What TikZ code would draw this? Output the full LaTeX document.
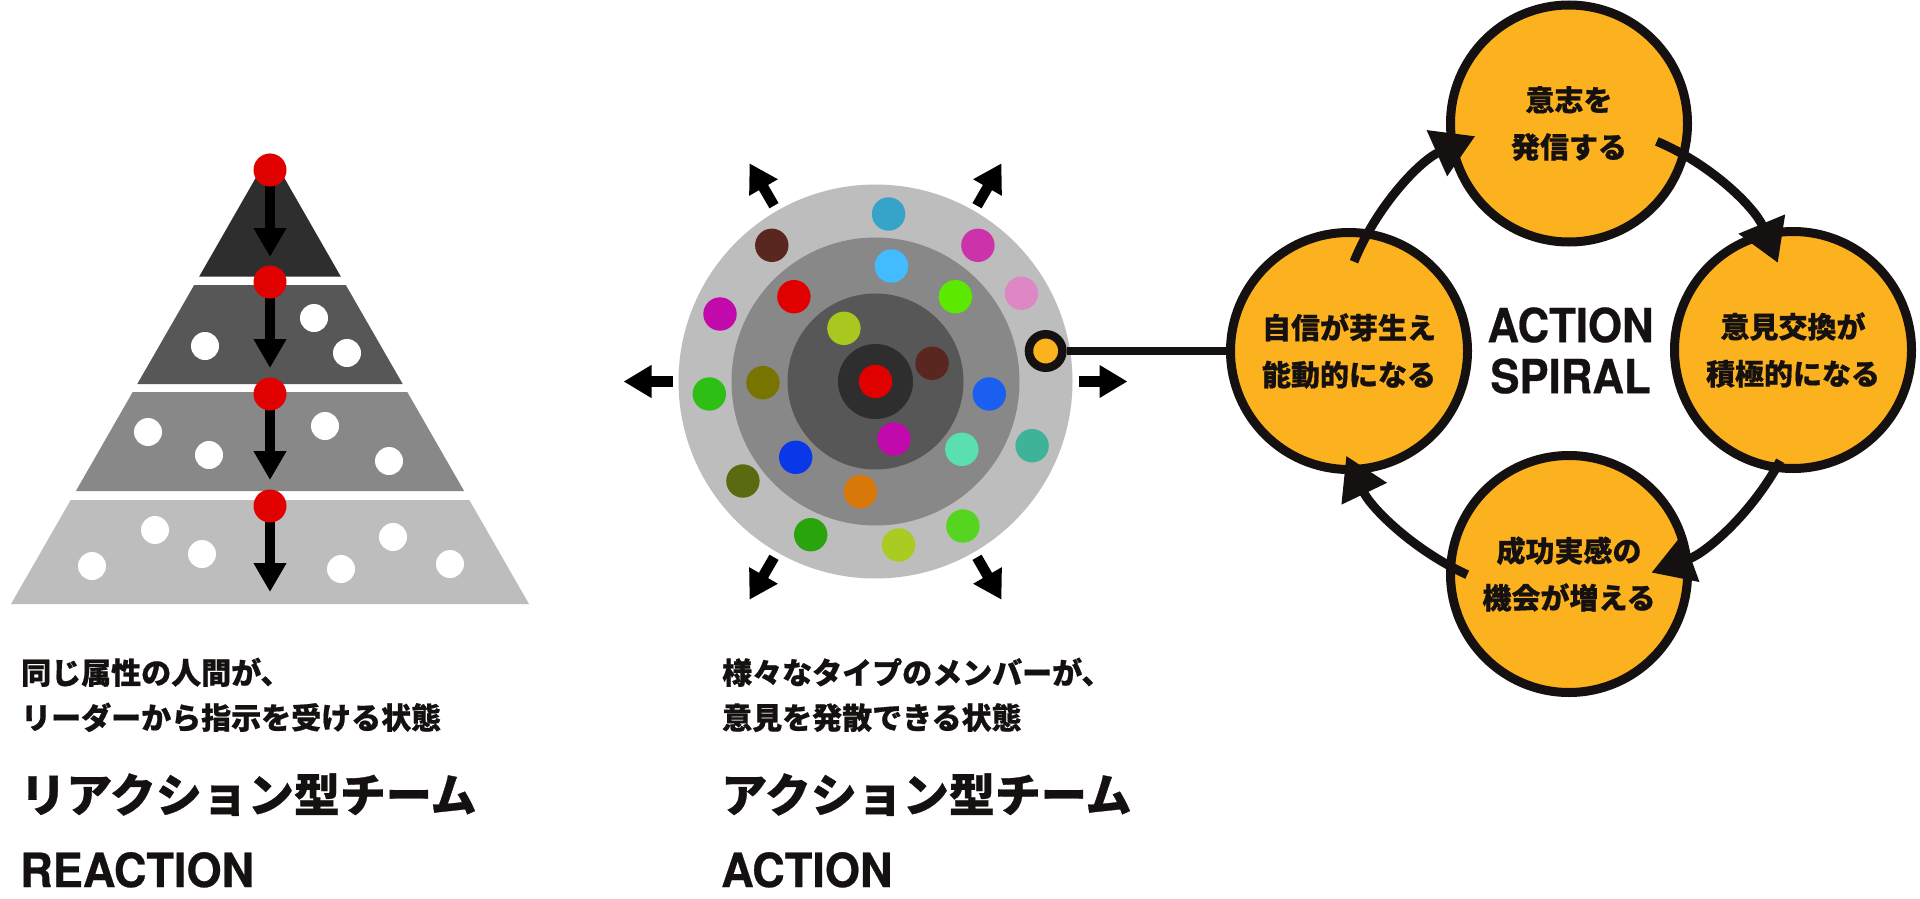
\documentclass[tikz,border=0pt]{standalone}
\usepackage{fontspec}
\newfontfamily\jp[BoldFeatures={FakeBold=0.6}]{Noto Sans CJK JP}
\newfontfamily\hel[FakeStretch=0.93,BoldFeatures={FakeBold=0.5}]{TeX Gyre Heros}
\newfontfamily\helw[FakeStretch=0.96,BoldFeatures={FakeBold=0.5}]{TeX Gyre Heros}
\usetikzlibrary{arrows.meta,calc}
\definecolor{tierA}{HTML}{2E2E2E}
\definecolor{tierB}{HTML}{575757}
\definecolor{tierC}{HTML}{888888}
\definecolor{tierD}{HTML}{BDBDBD}
\definecolor{reddot}{HTML}{E00000}
\definecolor{spfill}{HTML}{FCB11F}
\definecolor{ink}{HTML}{141110}
\begin{document}
\begin{tikzpicture}[x=1pt,y=-1pt,
  wdot/.style={circle,fill=white,inner sep=0pt,minimum size=28pt},
  rdot/.style={circle,fill=reddot,inner sep=0pt,minimum size=33pt},
  cdot/.style={circle,inner sep=0pt,minimum size=33.4pt},
  parr/.style={black,line width=10pt,-{Triangle[length=29pt,width=31pt]}},
  carr/.style={black,line width=10.5pt,-{Triangle[length=28pt,width=31pt]}},
  sarr/.style={ink,line width=9pt,-{Triangle[length=42pt,width=48pt]}},
  spc/.style={circle,draw=ink,fill=spfill,line width=9pt,minimum size=237pt,inner sep=0pt,align=center,text=ink,font=\jp\bfseries\fontsize{29}{47}\selectfont},
  captxt/.style={inner sep=0pt,text=ink,font=\jp\bfseries\fontsize{30}{36}\selectfont},
  ttltxt/.style={inner sep=0pt,text=ink,font=\jp\bfseries\fontsize{46}{55}\selectfont},
  engtxt/.style={inner sep=0pt,text=ink,font=\hel\bfseries\fontsize{47}{51}\selectfont},
  engbig/.style={inner sep=0pt,text=ink,font=\helw\bfseries\fontsize{47}{51}\selectfont}
]
\useasboundingbox (0,0) rectangle (1920,899);
\fill[white] (0,0) rectangle (1920,899);

% ---------------- pyramid ----------------
\fill[tierA] (270,153) -- (340.9,276.7) -- (199.1,276.7) -- cycle;
\fill[tierB] (194.2,285) -- (345.8,285) -- (402.7,384) -- (137.3,384) -- cycle;
\fill[tierC] (132.7,392) -- (407.3,392) -- (464.1,491) -- (75.9,491) -- cycle;
\fill[tierD] (70.7,500) -- (469.3,500) -- (529,604) -- (11,604) -- cycle;

\node[wdot] (w1) at (205,346) {};
\node[wdot] (w2) at (314,318) {};
\node[wdot] (w3) at (347,353) {};
\node[wdot] (w4) at (148,432) {};
\node[wdot] (w5) at (209,455) {};
\node[wdot] (w6) at (325,426) {};
\node[wdot] (w7) at (389,461) {};
\node[wdot] (w8) at (92,566) {};
\node[wdot] (w9) at (155,530) {};
\node[wdot] (w10) at (202,554) {};
\node[wdot] (w11) at (341,569) {};
\node[wdot] (w12) at (393,537) {};
\node[wdot] (w13) at (450,564) {};

\coordinate (p1) at (270,170);
\coordinate (p2) at (270,282);
\coordinate (p3) at (270,394);
\coordinate (p4) at (270,506);
\coordinate (q1) at (270,257);
\coordinate (q2) at (270,368);
\coordinate (q3) at (270,480);
\coordinate (q4) at (270,592);
\draw[parr] (p1) -- (q1);
\draw[parr] (p2) -- (q2);
\draw[parr] (p3) -- (q3);
\draw[parr] (p4) -- (q4);
\node[rdot] (r1) at (p1) {};
\node[rdot] (r2) at (p2) {};
\node[rdot] (r3) at (p3) {};
\node[rdot] (r4) at (p4) {};

% ---------------- action circles ----------------
\coordinate (cc) at (875.5,381.5);
\fill[tierD] (cc) circle[radius=197];
\fill[tierC] (cc) circle[radius=144];
\fill[tierB] (cc) circle[radius=88];
\fill[tierA] (cc) circle[radius=37.5];
\node[cdot,fill=reddot] (c0) at (cc) {};

\node[cdot,fill={rgb,255:red,53;green,164;blue,200}] (c1) at (888.6,214) {};
\node[cdot,fill={rgb,255:red,90;green,38;blue,32}] (c2) at (771.8,245.3) {};
\node[cdot,fill={rgb,255:red,204;green,51;blue,170}] (c3) at (977.9,245.3) {};
\node[cdot,fill={rgb,255:red,66;green,187;blue,255}] (c4) at (891.4,266) {};
\node[cdot,fill={rgb,255:red,224;green,0;blue,0}] (c5) at (793.9,296.7) {};
\node[cdot,fill={rgb,255:red,93;green,232;blue,0}] (c6) at (955.4,296.7) {};
\node[cdot,fill={rgb,255:red,221;green,136;blue,196}] (c7) at (1021.4,293.3) {};
\node[cdot,fill={rgb,255:red,194;green,10;blue,172}] (c8) at (720,314) {};
\node[cdot,fill={rgb,255:red,168;green,200;blue,32}] (c9) at (843.9,328.3) {};
\node[cdot,fill={rgb,255:red,90;green,38;blue,32}] (c10) at (932.1,363.3) {};
\node[cdot,fill={rgb,255:red,120;green,116;blue,0}] (c11) at (762.9,382.7) {};
\node[cdot,fill={rgb,255:red,45;green,191;blue,20}] (c12) at (709.3,394) {};
\node[cdot,fill={rgb,255:red,26;green,95;blue,240}] (c13) at (989.3,394) {};
\node[cdot,fill={rgb,255:red,194;green,10;blue,172}] (c15) at (893.9,439) {};
\node[cdot,fill={rgb,255:red,62;green,179;blue,152}] (c16) at (1032.1,445.7) {};
\node[cdot,fill={rgb,255:red,90;green,224;blue,176}] (c17) at (961.8,449.3) {};
\node[cdot,fill={rgb,255:red,10;green,56;blue,232}] (c18) at (795.7,457.3) {};
\node[cdot,fill={rgb,255:red,90;green,106;blue,16}] (c19) at (742.9,481) {};
\node[cdot,fill={rgb,255:red,216;green,120;blue,8}] (c20) at (860.4,491.7) {};
\node[cdot,fill={rgb,255:red,42;green,164;blue,12}] (c21) at (810.7,534.7) {};
\node[cdot,fill={rgb,255:red,85;green,212;blue,32}] (c22) at (962.9,526) {};
\node[cdot,fill={rgb,255:red,170;green,204;blue,34}] (c23) at (898.6,545) {};
\node[circle,draw=ink,fill=spfill,line width=8.5pt,minimum size=33.5pt,inner sep=0pt] (ring) at (1045.7,351) {};

\coordinate (aRs) at (1078.5,381.5);  \coordinate (aRt) at (1127.5,381.5);
\coordinate (aLs) at (672.5,381.5);   \coordinate (aLt) at (623.5,381.5);
\coordinate (aURs) at (977,205.7);    \coordinate (aURt) at (1001.5,163.3);
\coordinate (aULs) at (774,205.7);    \coordinate (aULt) at (749.5,163.3);
\coordinate (aDRs) at (977,557.3);    \coordinate (aDRt) at (1001.5,599.7);
\coordinate (aDLs) at (774,557.3);    \coordinate (aDLt) at (749.5,599.7);
\draw[carr] (aRs) -- (aRt);
\draw[carr] (aLs) -- (aLt);
\draw[carr] (aURs) -- (aURt);
\draw[carr] (aULs) -- (aULt);
\draw[carr] (aDRs) -- (aDRt);
\draw[carr] (aDLs) -- (aDLt);

% ---------------- action spiral ----------------
\node[spc] (sT) at (1569,123.5) {意志を\\発信する};
\node[spc] (sR) at (1793,350) {意見交換が\\積極的になる};
\node[spc] (sB) at (1569,574) {成功実感の\\機会が増える};
\node[spc] (sL) at (1349,351) {自信が芽生え\\能動的になる};
\node[engtxt,align=center] (sp) at (1570.5,350.5) {ACTION\\SPIRAL};

\draw[ink,line width=7.5pt] (ring) -- (sL);

\coordinate (s1) at (1354,261.7);
\coordinate (s2) at (1656.8,141.4);
\coordinate (s3) at (1780.1,460.7);
\coordinate (s4) at (1467.2,574.7);
\draw[sarr] (s1) arc[start angle=-158,end angle=-114,radius=233];
\draw[sarr] (s2) arc[start angle=-67.3,end angle=-22.5,radius=225];
\draw[sarr] (s3) arc[start angle=28,end angle=70,radius=238];
\draw[sarr] (s4) arc[start angle=114.5,end angle=154.5,radius=248];

% ---------------- captions ----------------
\node[captxt,anchor=base west] (t1) at (21,684) {同じ属性の人間が、};
\node[captxt,anchor=base west] (t2) at (21,729) {リーダーから指示を受ける状態};
\node[ttltxt,anchor=base west] (t3) at (20,812) {リアクション型チーム};
\node[engbig,anchor=base west] (t4) at (20,887) {REACTION};

\node[captxt,anchor=base west] (u1) at (722,684) {様々なタイプのメンバーが、};
\node[captxt,anchor=base west] (u2) at (722,729) {意見を発散できる状態};
\node[ttltxt,anchor=base west] (u3) at (721,812) {アクション型チーム};
\node[engbig,anchor=base west] (u4) at (721,887) {ACTION};
\end{tikzpicture}
\end{document}
